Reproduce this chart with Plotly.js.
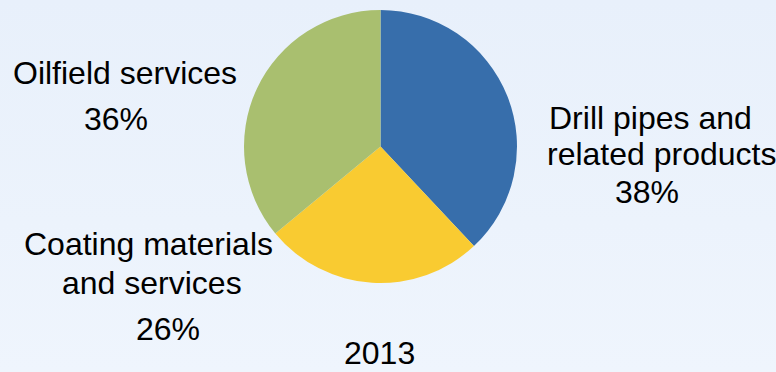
<!DOCTYPE html>
<html>
<head>
<meta charset="utf-8">
<script src="https://cdn.plot.ly/plotly-3.0.1.min.js"></script>
<style>
  html, body { margin: 0; padding: 0; }
  body { width: 776px; height: 372px; background: linear-gradient(to bottom, #e8f0fb 0%, #ecf3fc 60%, #eff5fd 100%); }
  #chart { width: 776px; height: 372px; }
</style>
</head>
<body>
<div id="chart"></div>
<script>
// Data
var categories = ["Drill pipes and related products", "Coating materials and services", "Oilfield services"];
var shares = [38, 26, 36];
var colors = ["#376eab", "#f9cb31", "#a9bf6f"];
var labelLines = [
  ["Drill pipes and", "related products"],
  ["Coating materials", "and services"],
  ["Oilfield services"]
];
var yearLabel = "2013";

var W = 776, H = 372;
var FS = 32;
var FONT = "Liberation Sans, Arial, Helvetica, sans-serif";

// label placement (pixel centres / baselines) per category
var linePos = [
  [[650, 129], [661, 165], [647, 203]],
  [[148, 255], [152, 294], [168, 340]],
  [[125, 84], [116, 130]]
];

var annotations = [];
function addText(txt, cx, baseline) {
  annotations.push({
    text: txt, showarrow: false, xref: "paper", yref: "paper",
    x: cx / W, y: 1 - (baseline - 0.35 * FS) / H,
    xanchor: "center", yanchor: "middle", borderpad: 0,
    font: { family: FONT, size: FS, color: "#000000" }
  });
}
for (var i = 0; i < categories.length; i++) {
  var lines = labelLines[i].concat([shares[i] + "%"]);
  for (var j = 0; j < lines.length; j++) {
    addText(lines[j], linePos[i][j][0], linePos[i][j][1]);
  }
}
addText(yearLabel, 379, 364);

var trace = {
  type: "pie",
  labels: categories,
  values: shares,
  sort: false,
  direction: "clockwise",
  rotation: 0,
  textinfo: "none",
  hoverinfo: "label+percent",
  marker: { colors: colors, line: { width: 0 } },
  domain: { x: [244 / W, 517 / W], y: [89 / H, 362 / H] },
  showlegend: false
};

var layout = {
  width: W, height: H,
  margin: { l: 0, r: 0, t: 0, b: 0 },
  paper_bgcolor: "rgba(0,0,0,0)",
  plot_bgcolor: "rgba(0,0,0,0)",
  showlegend: false,
  annotations: annotations,
  font: { family: FONT }
};

Plotly.newPlot("chart", [trace], layout, { staticPlot: true, displayModeBar: false });
</script>
</body>
</html>
